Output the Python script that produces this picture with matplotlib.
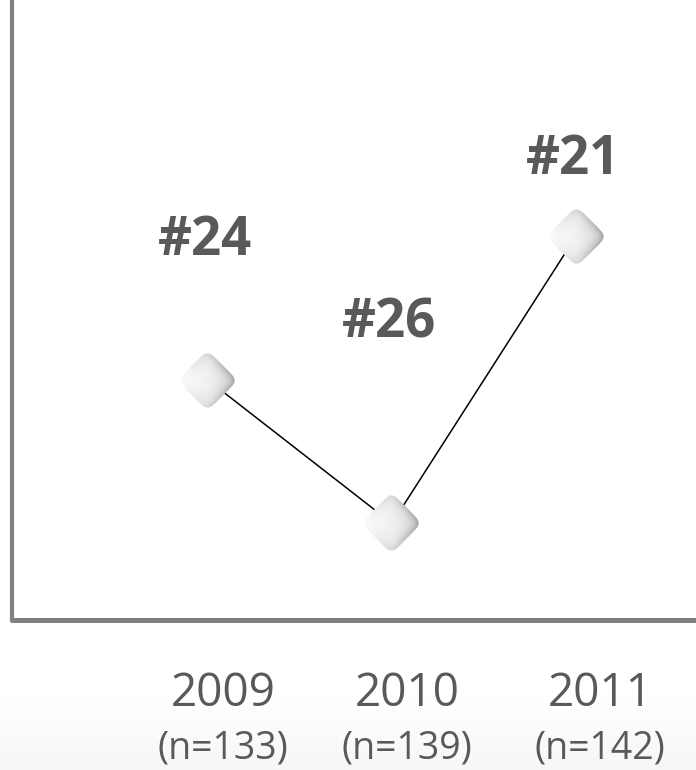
import matplotlib
matplotlib.use("Agg")
import matplotlib.pyplot as plt
from matplotlib.transforms import offset_copy
import numpy as np

# data: ranking by year (position on an arbitrary score scale, higher = better rank)
years = ["2009", "2010", "2011"]
sample_sizes = ["(n=133)", "(n=139)", "(n=142)"]
rank_labels = ["#24", "#26", "#21"]
scores = [38.7, 15.6, 61.9]

# label offsets above each marker (pixels) and tick label nudges
label_offsets = [139, 200, 76]
tick_nudges = [15, 15, 24]

W, H = 696, 770
fig = plt.figure(figsize=(W / 100, H / 100), dpi=100)
fig.patch.set_facecolor("white")

# faint gradient band along the bottom
bg = fig.add_axes([0, 0, 1, 80 / H], zorder=-5)
grad = np.linspace(0.965, 1.0, 64).reshape(-1, 1)
bg.imshow(grad, cmap="gray", vmin=0, vmax=1, aspect="auto", extent=[0, 1, 0, 1], origin="lower")
bg.axis("off")

ax = fig.add_axes([12 / W, (H - 620) / H, 1 - 12 / W, 620 / H])
ax.set_facecolor("none")
x = np.arange(len(years))
ax.set_xlim(-1.065, 2.652)
ax.set_ylim(0, 100)

for side in ["top", "right"]:
    ax.spines[side].set_visible(False)
ax.spines["left"].set_color("#808080")
ax.spines["left"].set_linewidth(3.0)
ax.spines["bottom"].set_color("#808080")
ax.spines["bottom"].set_linewidth(3.6)
ax.spines["bottom"].set_capstyle("round")
ax.set_xticks([])
ax.set_yticks([])

ax.plot(x, scores, color="black", lw=1.1, zorder=2)

# rounded diamond markers with gray shading
fig.canvas.draw()
inv = ax.transData.inverted()
half = 32  # px
yy, xx = np.mgrid[-half:half + 1, -half:half + 1].astype(float)
u = (xx + yy) / np.sqrt(2)
v = (xx - yy) / np.sqrt(2)
p = 6
norm = (np.abs(u) ** p + np.abs(v) ** p) ** (1 / p)
s = 21.5
alpha = np.clip(s - norm + 0.5, 0, 1)
t = np.clip((xx + half) / (2 * half), 0, 1)
edge = np.clip(s - norm, 0, None)
bevel = np.exp(-edge / 6)
shade = 1 - 0.12 * t ** 1.2 - 0.30 * bevel * t ** 1.3
shade = np.clip(shade, 0, 1)
img = np.dstack([shade, shade, shade, alpha])

for xi, yi in zip(x, scores):
    cx, cy = ax.transData.transform((xi, yi))
    x0, y0 = inv.transform((cx - half - 0.5, cy - half - 0.5))
    x1, y1 = inv.transform((cx + half + 0.5, cy + half + 0.5))
    ax.imshow(img, extent=[x0, x1, y0, y1], origin="upper", zorder=3,
              interpolation="bilinear", aspect="auto")

ax.set_xlim(-1.065, 2.652)
ax.set_ylim(0, 100)

for xi, yi, lab, off in zip(x, scores, rank_labels, label_offsets):
    ax.annotate(lab, (xi, yi), xytext=(-2, off * 0.72), textcoords="offset points",
                ha="center", va="center", fontsize=38, fontweight="bold",
                color="#595959", family="Open Sans", zorder=4)

# category labels under the axis
for xi, yr, n, dx in zip(x, years, sample_sizes, tick_nudges):
    tr = offset_copy(ax.get_xaxis_transform(), fig=fig, x=dx, y=0, units="dots")
    ax.text(xi, -(694 - 620) / 620, yr, transform=tr, ha="center", va="center",
            fontsize=33, color="#595959", family="Open Sans", clip_on=False)
    ax.text(xi, -(748 - 620) / 620, n, transform=tr, ha="center", va="center",
            fontsize=27, color="#595959", family="Open Sans", clip_on=False)

fig.savefig("out.png", dpi=100)
